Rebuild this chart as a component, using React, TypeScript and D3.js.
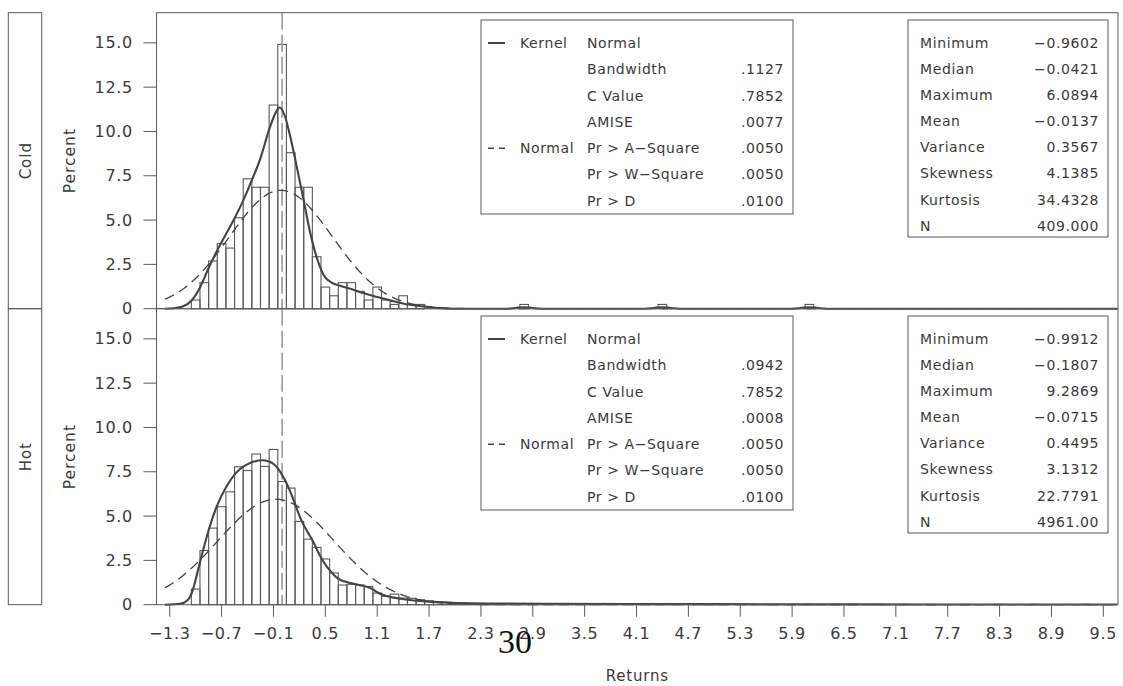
import React, { useEffect, useRef } from "react";
import * as d3 from "d3";

// histogram bins (centers, width 0.1) and percents
const coldBins = [-1.0, -0.9, -0.8, -0.7, -0.6, -0.5, -0.4, -0.3, -0.2, -0.1, 0.0, 0.1, 0.2, 0.3, 0.4, 0.5, 0.6, 0.7, 0.8, 0.9, 1.0, 1.1, 1.2, 1.3, 1.4, 1.5, 1.6, 2.8, 4.4, 6.1];
const coldPct = [0.49, 1.47, 2.69, 3.67, 3.42, 5.13, 7.33, 6.85, 6.85, 11.49, 14.91, 8.8, 6.85, 6.85, 2.93, 1.22, 0.73, 1.47, 1.47, 0.98, 0.49, 1.22, 0.49, 0.24, 0.73, 0.24, 0.24, 0.24, 0.24, 0.24];

const hotBins = [-1.0, -0.9, -0.8, -0.7, -0.6, -0.5, -0.4, -0.3, -0.2, -0.1, 0.0, 0.1, 0.2, 0.3, 0.4, 0.5, 0.6, 0.7, 0.8, 0.9, 1.0, 1.1, 1.2, 1.3, 1.4, 1.5, 1.6, 1.7, 1.8, 1.9, 2.0, 2.1, 2.2, 2.3,
  2.4, 2.5, 2.6, 2.7, 2.8, 2.9, 3.0, 3.1, 3.2, 3.3, 3.4, 3.5, 3.6, 3.7, 3.8, 3.9, 4.0, 4.1, 4.2, 4.3, 4.4, 4.5, 4.6, 4.8, 4.9, 5.0, 5.1, 5.3, 5.4, 5.6, 5.7, 5.9, 6.1, 6.4, 6.6, 6.9, 7.2, 7.5, 7.9, 8.3, 8.7, 9.3];
const hotPct = [0.88, 3.06, 4.32, 5.53, 6.37, 7.78, 7.57, 8.5, 7.8, 8.76, 6.95, 6.58, 4.7, 3.7, 3.23, 2.58, 1.79, 1.11, 1.15, 1.11, 1.03, 0.66, 0.47, 0.6, 0.38, 0.36, 0.28, 0.22, 0.16, 0.14, 0.12, 0.1, 0.08, 0.08,
  0.06, 0.06, 0.04, 0.06, 0.04, 0.04, 0.04, 0.04, 0.04, 0.02, 0.04, 0.02, 0.04, 0.02, 0.02, 0.04, 0.02, 0.02, 0.02, 0.02, 0.04, 0.02, 0.02, 0.02, 0.02, 0.02, 0.02, 0.02, 0.02, 0.02, 0.02, 0.02, 0.02, 0.02, 0.02, 0.02, 0.02, 0.02, 0.02, 0.02, 0.02, 0.02];

// kernel density curves
const coldKernelX = [-1.356, -1.25, -1.15, -1.05, -0.95, -0.85, -0.75, -0.65, -0.55, -0.45, -0.35, -0.25, -0.15, -0.08, -0.03, 0.03, 0.09, 0.17, 0.25, 0.32, 0.4, 0.48, 0.58, 0.67, 0.79, 0.94, 1.1, 1.25, 1.41, 1.56, 1.72, 1.87, 2.0, 2.6, 2.7, 2.8, 2.9, 3.0, 4.2, 4.3, 4.4, 4.5, 4.6, 5.9, 6.0, 6.1, 6.2, 6.3, 9.66];
const coldKernelY = [0, 0.03, 0.12, 0.45, 1.2, 2.3, 3.3, 4.2, 5.1, 6.1, 7.25, 8.5, 10.1, 11.0, 11.35, 10.9, 9.8, 8.0, 6.1, 4.4, 2.9, 1.9, 1.45, 1.3, 1.12, 0.88, 0.66, 0.47, 0.28, 0.17, 0.08, 0.02, 0, 0, 0.04, 0.085, 0.04, 0, 0, 0.04, 0.085, 0.04, 0, 0, 0.04, 0.085, 0.04, 0, 0];
const hotKernelX = [-1.356, -1.18, -1.1, -1.05, -0.95, -0.85, -0.76, -0.64, -0.53, -0.37, -0.22, -0.1, 0.015, 0.13, 0.21, 0.36, 0.44, 0.6, 0.65, 0.79, 0.9, 1.02, 1.14, 1.29, 1.37, 1.56, 1.75, 1.95, 2.3, 3.0, 4.0, 5.0, 6.0, 7.5, 9.0, 9.66];
const hotKernelY = [0, 0.05, 0.22, 0.6, 2.4, 4.2, 5.5, 6.7, 7.45, 8.0, 8.15, 7.95, 7.2, 5.95, 4.9, 3.55, 2.75, 1.68, 1.47, 1.22, 1.1, 0.94, 0.6, 0.4, 0.34, 0.22, 0.16, 0.11, 0.07, 0.05, 0.04, 0.03, 0.02, 0.015, 0.01, 0.01];

const fitLabels = ["Bandwidth", "C Value", "AMISE", "Pr > A\u2212Square", "Pr > W\u2212Square", "Pr > D"];
const coldFit = [".1127", ".7852", ".0077", ".0050", ".0050", ".0100"];
const hotFit = [".0942", ".7852", ".0008", ".0050", ".0050", ".0100"];

const statLabels = ["Minimum", "Median", "Maximum", "Mean", "Variance", "Skewness", "Kurtosis", "N"];
const coldStats = ["\u22120.9602", "\u22120.0421", "6.0894", "\u22120.0137", "0.3567", "4.1385", "34.4328", "409.000"];
const hotStats = ["\u22120.9912", "\u22120.1807", "9.2869", "\u22120.0715", "0.4495", "3.1312", "22.7791", "4961.00"];

const groups = ["Cold", "Hot"];
const xTicks = [-1.3, -0.7, -0.1, 0.5, 1.1, 1.7, 2.3, 2.9, 3.5, 4.1, 4.7, 5.3, 5.9, 6.5, 7.1, 7.7, 8.3, 8.9, 9.5];
const yTicks = [0, 2.5, 5, 7.5, 10, 12.5, 15];

const num = (s: string) => +s.replace("\u2212", "-");

export default function App() {
  const ref = useRef<SVGSVGElement>(null);

  useEffect(() => {
    const svg = d3.select(ref.current);
    svg.selectAll("*").remove();

    const font = "DejaVu Sans";
    const ink = "#3a3a3a";
    const stroke = "#5a5a5a";
    const left = 156.5, right = 1118;
    const panelH = 296;
    const tops = [12.7, 308.7];

    const x = d3.scaleLinear().domain([-1.453, 9.67]).range([left, right]);

    const panels = [
      { bins: coldBins, pct: coldPct, kx: coldKernelX, ky: coldKernelY, fit: coldFit, stats: coldStats },
      { bins: hotBins, pct: hotPct, kx: hotKernelX, ky: hotKernelY, fit: hotFit, stats: hotStats },
    ];

    panels.forEach((p, i) => {
      const top = tops[i];
      const bottom = top + panelH;
      const y = d3.scaleLinear().domain([0, 16.7]).range([bottom, top]);
      const g = svg.append("g");

      // strip label
      g.append("rect").attr("x", 8.3).attr("y", top).attr("width", 33.4).attr("height", panelH)
        .attr("fill", "none").attr("stroke", stroke);
      g.append("text").attr("transform", `translate(26,${top + panelH / 2}) rotate(-90)`)
        .attr("text-anchor", "middle").attr("dy", "0.35em")
        .attr("font-family", font).attr("font-size", 15).attr("letter-spacing", 1).attr("fill", ink)
        .text(groups[i]);
      g.append("text").attr("transform", `translate(70,${top + panelH / 2}) rotate(-90)`)
        .attr("text-anchor", "middle").attr("dy", "0.35em")
        .attr("font-family", font).attr("font-size", 15.5).attr("letter-spacing", 1).attr("fill", ink)
        .text("Percent");

      // bars
      g.selectAll(".bar")
        .data(p.bins.map((c, k) => ({ c, v: p.pct[k] })))
        .enter()
        .append("rect")
        .attr("x", (d) => x(d.c - 0.05))
        .attr("width", (d) => x(d.c + 0.05) - x(d.c - 0.05))
        .attr("y", (d) => y(d.v))
        .attr("height", (d) => bottom - y(d.v))
        .attr("fill", "none")
        .attr("stroke", stroke)
        .attr("stroke-width", 1.1);

      // reference line at 0
      g.append("line").attr("x1", x(0)).attr("x2", x(0)).attr("y1", top).attr("y2", bottom)
        .attr("stroke", "#9a9a9a").attr("stroke-width", 1.6).attr("stroke-dasharray", "17,5");

      // fitted normal from the stated mean and variance
      const mu = num(p.stats[3]);
      const sd = Math.sqrt(num(p.stats[4]));
      const nx = d3.range(-1.356, 9.67, 0.01);
      const normal = d3.line<number>()
        .x((v) => x(v))
        .y((v) => y((100 * 0.1 * Math.exp(-0.5 * ((v - mu) / sd) ** 2)) / (sd * Math.sqrt(2 * Math.PI))));
      g.append("path").attr("d", normal(nx)).attr("fill", "none")
        .attr("stroke", "#444").attr("stroke-width", 1.3).attr("stroke-dasharray", "10,6");

      // kernel
      const kernel = d3.line<number>()
        .x((v) => x(v))
        .y((_, k) => y(p.ky[k]))
        .curve(d3.curveMonotoneX);
      g.append("path").attr("d", kernel(p.kx)).attr("fill", "none")
        .attr("stroke", "#444").attr("stroke-width", 2.1);

      // frame
      g.append("rect").attr("x", left).attr("y", top).attr("width", right - left).attr("height", panelH)
        .attr("fill", "none").attr("stroke", stroke);

      // y axis
      yTicks.forEach((t) => {
        g.append("line").attr("x1", 143.5).attr("x2", left).attr("y1", y(t)).attr("y2", y(t)).attr("stroke", stroke);
        g.append("text").attr("x", 133).attr("y", y(t)).attr("dy", "0.35em").attr("text-anchor", "end")
          .attr("font-family", font).attr("font-size", 16).attr("letter-spacing", 0.7).attr("fill", ink)
          .text(t === 0 ? "0" : t.toFixed(1));
      });

      // fit legend box
      const ly = top + 7.3;
      g.append("rect").attr("x", 481).attr("y", ly).attr("width", 312).attr("height", 194)
        .attr("fill", "white").attr("stroke", stroke);
      const rowY = (r: number) => ly + 23 + r * 26.3;
      const txt = (tx: number, ty: number, s: string, anchor = "start") =>
        g.append("text").attr("x", tx).attr("y", ty).attr("dy", "0.35em").attr("text-anchor", anchor)
          .attr("font-family", font).attr("font-size", 14).attr("letter-spacing", 0.6).attr("fill", ink).text(s);
      g.append("line").attr("x1", 488).attr("x2", 505).attr("y1", rowY(0)).attr("y2", rowY(0))
        .attr("stroke", "#444").attr("stroke-width", 2);
      txt(520, rowY(0), "Kernel");
      txt(587, rowY(0), "Normal");
      g.append("line").attr("x1", 488).attr("x2", 507).attr("y1", rowY(4)).attr("y2", rowY(4))
        .attr("stroke", "#444").attr("stroke-width", 1.5).attr("stroke-dasharray", "6,5");
      txt(520, rowY(4), "Normal");
      fitLabels.forEach((lab, r) => {
        txt(587, rowY(r + 1), lab);
        txt(784, rowY(r + 1), p.fit[r], "end");
      });

      // stats box
      g.append("rect").attr("x", 908).attr("y", ly).attr("width", 200).attr("height", 217)
        .attr("fill", "white").attr("stroke", stroke);
      statLabels.forEach((lab, r) => {
        const sy = ly + 23 + r * 26.1;
        txt(920, sy, lab);
        txt(1099, sy, p.stats[r], "end");
      });
    });

    // x axis
    const base = tops[1] + panelH;
    xTicks.forEach((t) => {
      svg.append("line").attr("x1", x(t)).attr("x2", x(t)).attr("y1", base).attr("y2", base + 12).attr("stroke", stroke);
      svg.append("text").attr("x", x(t)).attr("y", 633).attr("dy", "0.35em").attr("text-anchor", "middle")
        .attr("font-family", font).attr("font-size", 16).attr("letter-spacing", 0.7).attr("fill", ink)
        .text(t < 0 ? "\u2212" + Math.abs(t).toFixed(1) : t.toFixed(1));
    });
    svg.append("text").attr("x", (left + right) / 2).attr("y", 676).attr("dy", "0.35em").attr("text-anchor", "middle")
      .attr("font-family", font).attr("font-size", 15).attr("letter-spacing", 0.8).attr("fill", ink)
      .text("Returns");

    // stray page number printed over the axis labels
    svg.append("text").attr("x", 515).attr("y", 653).attr("text-anchor", "middle")
      .attr("font-family", "Liberation Serif").attr("font-size", 34).attr("fill", "#111")
      .text("30");
  }, []);

  return (
    <svg
      ref={ref}
      width={1123}
      height={686}
      style={{ position: "absolute", left: 0, top: 0, display: "block", background: "white" }}
    />
  );
}
